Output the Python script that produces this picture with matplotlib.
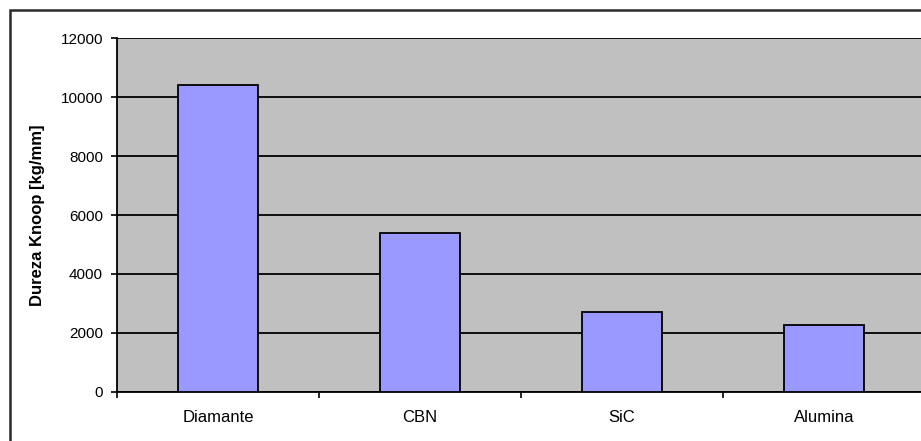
import matplotlib
matplotlib.use('agg')
import matplotlib.pyplot as plt
import numpy as np
from matplotlib.patches import Rectangle

plt.rcParams['font.family'] = ['Liberation Sans', 'DejaVu Sans']

materiais = ['Diamante', 'CBN', 'SiC', 'Alumina']
dureza = [10400, 5400, 2700, 2250]
yticks = [0, 2000, 4000, 6000, 8000, 10000, 12000]

W, H = 921, 441
fig = plt.figure(figsize=(W / 100, H / 100), dpi=100)
# plot area runs slightly past the right edge of the figure
ax = fig.add_axes([117 / W, 49.3 / H, 808 / W, 353.4 / H])
ax.set_facecolor('#c0c0c0')

x = np.arange(len(materiais))
ax.bar(x, dureza, width=0.4, color='#9999ff', edgecolor='black', linewidth=1.3, zorder=3)

ax.set_ylim(0, 12000)
ax.set_xlim(-0.5, len(materiais) - 0.5)
ax.set_yticks(yticks)
ax.set_yticklabels([str(v) for v in yticks], fontsize=11)
ax.yaxis.grid(True, color='black', linewidth=1.3, zorder=1)
ax.set_axisbelow(True)

# category boundaries as major ticks, names on minor ticks
ax.set_xticks(np.arange(len(materiais) + 1) - 0.5)
ax.set_xticklabels([])
ax.set_xticks(x, minor=True)
ax.set_xticklabels(materiais, minor=True, fontsize=12)
ax.tick_params(axis='x', which='minor', length=0, pad=13)
ax.tick_params(axis='both', which='major', direction='out', length=4, width=1.2, color='black')
ax.tick_params(axis='y', pad=6)

for side in ['top', 'right']:
    ax.spines[side].set_visible(False)
for side in ['left', 'bottom']:
    ax.spines[side].set_linewidth(1.3)
    ax.spines[side].set_color('black')

ax.set_ylabel('Dureza Knoop [kg/mm]', fontsize=12, fontweight='bold')
ax.yaxis.set_label_coords(-72 / 808, 0.5)

# outer chart border
fig.patches.append(Rectangle((10 / W, -0.1), 1.0, (H - 10) / H + 0.1, transform=fig.transFigure,
                             fill=False, edgecolor='#2a2a2a', linewidth=1.8))

fig.savefig('out.png', dpi=100)
